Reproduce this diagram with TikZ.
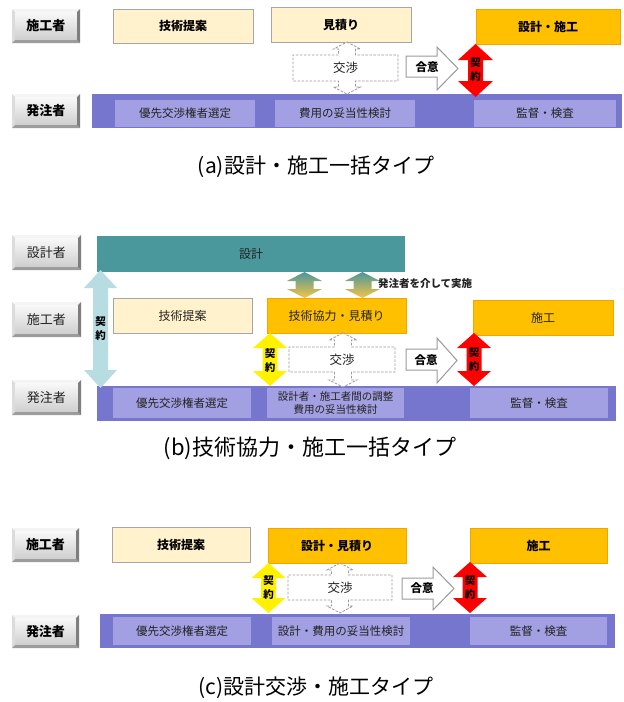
\documentclass[tikz,border=0pt]{standalone}
\usepackage{fontspec}
\setmainfont{Noto Sans CJK JP}
\definecolor{lyel}{HTML}{FFF2CC}
\definecolor{ygray}{HTML}{A6A6A6}
\definecolor{org}{HTML}{FFC000}
\definecolor{oedge}{HTML}{F5A300}
\definecolor{barblue}{HTML}{7676CE}
\definecolor{inblue}{HTML}{A2A0E2}
\definecolor{teal1}{HTML}{4A989B}
\definecolor{gorg}{HTML}{F6C445}
\definecolor{lblue}{HTML}{B7DCE2}
\definecolor{txt}{HTML}{222222}
\definecolor{dashg}{HTML}{9A9A9A}
\definecolor{bL}{HTML}{F4F4F4}
\definecolor{bLeft}{HTML}{DCDCDC}
\definecolor{bBot}{HTML}{9C9C9C}
\definecolor{bRight}{HTML}{7E7E7E}
\definecolor{fTop}{HTML}{F8F8F8}
\definecolor{fBot}{HTML}{CFCFCF}
% box: style, name, x1, y1, x2, y2, text
\newcommand\bx[7]{\node[#1,anchor=north west,minimum width={(#5-#3)*1pt},minimum height={(#6-#4)*1pt}] (#2) at (#3,#4) {#7};}
% double vertical arrow: style, xc, ytop, ybot, half head, half stem, head length
\newcommand\VDA[7]{\path[#1] (#2,#3) -- (#2+#5,#3+#7) -- (#2+#6,#3+#7) -- (#2+#6,#4-#7) -- (#2+#5,#4-#7) -- (#2,#4) -- (#2-#5,#4-#7) -- (#2-#6,#4-#7) -- (#2-#6,#3+#7) -- (#2-#5,#3+#7) -- cycle;}
% negotiation shape
\newcommand\NEG[9]{\path[negst] (#1,#2) -- (#1+#4,#2+7) -- (#1+#5,#2+7) -- (#1+#5,#8) -- (#7,#8) -- (#7,#9) -- (#1+#5,#9) -- (#1+#5,#3-7) -- (#1+#4,#3-7) -- (#1,#3) -- (#1-#4,#3-7) -- (#1-#5,#3-7) -- (#1-#5,#9) -- (#6,#9) -- (#6,#8) -- (#1-#5,#8) -- (#1-#5,#2+7) -- (#1-#4,#2+7) -- cycle;}
% right block arrow: x1, xh, xt, body top, body bottom, head top, head bottom
\newcommand\RA[7]{\path[agst] (#1,#4) -- (#2,#4) -- (#2,#6) -- (#3,{(#6+#7)/2}) -- (#2,#7) -- (#2,#5) -- (#1,#5) -- cycle;}
% bevelled button: name, x1, y1, x2, y2, text, font style
\newcommand\btn[7]{%
\fill[bL] (#2,#3) -- (#4,#3) -- (#4-3.5,#3+3.5) -- (#2+3.5,#3+3.5) -- cycle;
\fill[bLeft] (#2,#3) -- (#2+3.5,#3+3.5) -- (#2+3.5,#5-3.5) -- (#2,#5) -- cycle;
\fill[bBot] (#2,#5) -- (#2+3.5,#5-3.5) -- (#4-3.5,#5-3.5) -- (#4,#5) -- cycle;
\fill[bRight] (#4,#3) -- (#4,#5) -- (#4-3.5,#5-3.5) -- (#4-3.5,#3+3.5) -- cycle;
\shade[top color=fTop,bottom color=fBot] (#2+3.5,#3+3.5) rectangle (#4-3.5,#5-3.5);
\node[#7] (#1) at ({(#2+#4)/2},{(#3+#5)/2}) {#6};}
\begin{document}
\begin{tikzpicture}[x=1pt,y=-1pt,
  every node/.style={inner sep=0pt,outer sep=0pt,text=txt},
  ybox/.style={draw=ygray,fill=lyel,line width=0.8pt},
  obox/.style={draw=oedge,fill=org,line width=0.8pt},
  bar/.style={fill=barblue},
  ibox/.style={fill=inblue,font=\fontsize{11.5}{13}\selectfont},
  tbar/.style={fill=teal1,font=\fontsize{12}{14}\selectfont},
  bf/.style={font=\fontsize{12}{14}\selectfont\bfseries,text=black},
  rg/.style={font=\fontsize{12}{14}\selectfont},
  btnb/.style={font=\fontsize{13}{15}\selectfont\bfseries,text=black},
  btnr/.style={font=\fontsize{13}{15}\selectfont,text=txt},
  negst/.style={draw=dashg,fill=white,line width=0.8pt,dash pattern=on 2.5pt off 1.5pt},
  agst/.style={draw=dashg,fill=white,line width=1pt},
  redst/.style={fill=red},
  yelst/.style={fill=yellow},
  lbst/.style={fill=lblue},
  grst/.style={top color=teal1,bottom color=gorg},
  kei/.style={font=\fontsize{10.5}{14}\selectfont\bfseries,align=center,text=black},
  neg/.style={font=\fontsize{12.5}{14}\selectfont},
  agr/.style={font=\fontsize{11.5}{14}\selectfont\bfseries,text=black},
  captxt/.style={font=\fontsize{21}{23}\selectfont,text=black},
]
\fill[white] (0,0) rectangle (624,702);
\useasboundingbox (0,0) rectangle (624,702);

% ===== (a) =====
\btn{a-c}{12}{9}{80}{43}{施工者}{btnb}
\btn{a-o}{12}{94}{80}{128}{発注者}{btnb}
\bx{ybox,bf}{a-tp}{113}{9}{253}{43}{技術提案}
\bx{ybox,bf}{a-mt}{271}{7}{411}{42}{見積り}
\bx{obox,bf}{a-dc}{476}{9}{620}{44}{設計・施工}
\bx{bar}{a-bar}{92}{94}{622}{128}{}
\bx{ibox}{a-i1}{115}{100}{255}{127}{優先交渉権者選定}
\bx{ibox}{a-i2}{275}{100}{415}{127}{費用の妥当性検討}
\bx{ibox}{a-i3}{474}{100}{616}{127}{監督・検査}
\NEG{347}{42}{94}{13.5}{8.5}{293}{398}{55}{81}
\node[neg] (a-neg) at (345.5,68) {交渉};
\RA{406}{437}{458}{56}{77}{47}{90}
\node[agr] (a-agr) at (427,67) {合意};
\VDA{redst}{475.5}{44}{97}{17.5}{7.5}{16}
\node[kei] (a-kei) at (475.5,70) {契\\約};
\node[captxt] (a-cap) at (316,167) {(a)設計・施工一括タイプ};

% ===== (b) =====
\btn{b-d}{12}{235}{81}{270}{設計者}{btnr}
\btn{b-c}{12}{302}{81}{337}{施工者}{btnr}
\btn{b-o}{12}{380}{81}{415}{発注者}{btnr}
\bx{tbar}{b-des}{97}{236}{405}{272}{設計}
\bx{ybox,rg}{b-tp}{113}{298}{252}{333}{技術提案}
\bx{obox,rg}{b-ke}{267}{298}{406}{333}{技術協力・見積り}
\bx{obox,rg}{b-sk}{473}{300}{613}{335}{施工}
\bx{bar}{b-bar}{97}{386}{616}{421}{}
\bx{ibox}{b-i1}{113}{388}{251}{418}{優先交渉権者選定}
\bx{ibox,align=center,font=\fontsize{10.5}{13}\selectfont}{b-i2}{267}{388}{404}{418}{設計者・施工者間の調整\\費用の妥当性検討}
\bx{ibox}{b-i3}{470}{388}{608}{418}{監督・検査}
\VDA{grst}{304.5}{272}{298}{17.5}{9}{9}
\VDA{grst}{362.5}{272}{298}{17.5}{9}{9}
\node[anchor=west,font=\fontsize{10.5}{12}\selectfont\bfseries] (b-via) at (378,284) {発注者を介して実施};
\VDA{lbst}{100.5}{270}{388}{16.5}{7.5}{18}
\node[kei] (b-kei1) at (100.5,329) {契\\約};
\VDA{yelst}{270}{333}{386}{17}{7.5}{15}
\node[kei] (b-kei2) at (270,361) {契\\約};
\NEG{343}{333}{387}{14}{8.5}{289}{395}{347}{372}
\node[neg] (b-neg) at (342,359.5) {交渉};
\RA{406}{437}{457}{349}{370}{338}{383}
\node[agr] (b-agr) at (426,360) {合意};
\VDA{redst}{474}{333}{386}{17}{7.5}{15}
\node[kei] (b-kei3) at (474,360) {契\\約};
\node[captxt,font=\fontsize{22}{24}\selectfont] (b-cap) at (310,448) {(b)技術協力・施工一括タイプ};

% ===== (c) =====
\btn{c-c}{12}{528}{79}{562}{施工者}{btnb}
\btn{c-o}{12}{615}{79}{648}{発注者}{btnb}
\bx{ybox,bf}{c-tp}{112}{527}{250}{562}{技術提案}
\bx{obox,bf}{c-sm}{268}{528}{406}{563}{設計・見積り}
\bx{obox,bf}{c-sk}{470}{528}{607}{563}{施工}
\bx{bar}{c-bar}{100}{614}{615}{648}{}
\bx{ibox}{c-i1}{113}{617}{251}{645}{優先交渉権者選定}
\bx{ibox}{c-i2}{272}{617}{410}{645}{設計・費用の妥当性検討}
\bx{ibox}{c-i3}{470}{617}{607}{645}{監督・検査}
\VDA{yelst}{268.5}{563}{613}{17}{7.5}{15}
\node[kei] (c-kei1) at (268.5,588) {契\\約};
\NEG{340}{563}{613}{13}{8.5}{288}{392}{575}{600}
\node[neg] (c-neg) at (340,587.5) {交渉};
\RA{402}{433}{454}{578}{599}{567}{610}
\node[agr] (c-agr) at (422,588) {合意};
\VDA{redst}{470}{562}{613}{17}{7.5}{15}
\node[kei] (c-kei2) at (470,588) {契\\約};
\node[captxt] (c-cap) at (316,688) {(c)設計交渉・施工タイプ};
\end{tikzpicture}
\end{document}
